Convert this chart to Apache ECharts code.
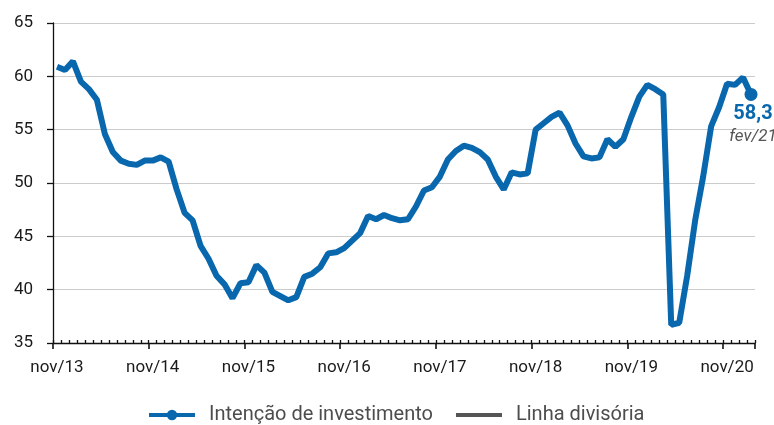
<!DOCTYPE html>
<html>
<head>
<meta charset="utf-8">
<script src="https://cdn.jsdelivr.net/npm/echarts@6/dist/echarts.min.js"></script>
<style>
html,body{margin:0;padding:0;background:#fff;}
#chart{width:774px;height:425px;}
</style>
</head>
<body>
<div id="chart"></div>
<script>
// Month abbreviations (Portuguese) used to build category labels nov/13 .. fev/21
var monthNames = ['jan','fev','mar','abr','mai','jun','jul','ago','set','out','nov','dez'];
var startMonth = 10; // nov
var startYear = 13;
var investimento = [
  60.9, 60.6, 61.4, 59.5, 58.8, 57.8, 54.6, 52.9, 52.1, 51.8, 51.7, 52.1,
  52.1, 52.4, 52.0, 49.4, 47.2, 46.5, 44.1, 42.9, 41.3, 40.5, 39.2, 40.6,
  40.7, 42.3, 41.6, 39.8, 39.4, 39.0, 39.3, 41.2, 41.5, 42.1, 43.4, 43.5,
  43.9, 44.6, 45.3, 46.9, 46.6, 47.0, 46.7, 46.5, 46.6, 47.8, 49.3, 49.6,
  50.6, 52.2, 53.0, 53.5, 53.3, 52.9, 52.2, 50.6, 49.4, 51.0, 50.8, 50.9,
  55.0, 55.6, 56.2, 56.6, 55.4, 53.7, 52.5, 52.3, 52.4, 54.1, 53.4, 54.1,
  56.2, 58.1, 59.2, 58.8, 58.3, 36.7, 36.9, 41.3, 46.5, 50.6, 55.3, 57.1,
  59.3, 59.2, 59.9, 58.3
];
var linhaDivisoria = investimento.map(function () { return null; });
var yTicks = [35, 40, 45, 50, 55, 60, 65];
var seriesNames = ['Intenção de investimento', 'Linha divisória'];
var lastLabel = '58,3';
var lastDate = 'fev/21';

var categories = [];
for (var i = 0; i < investimento.length; i++) {
  var m = (startMonth + i) % 12;
  var y = startYear + Math.floor((startMonth + i) / 12);
  categories.push(monthNames[m] + '/' + y);
}

var blue = '#0867ad';
var font = 'Roboto, "Noto Sans", sans-serif';
var chart = echarts.init(document.getElementById('chart'), null, {renderer: 'canvas'});
var lastIdx = investimento.length - 1;

var option = {
  animation: false,
  textStyle: {fontFamily: font},
  grid: {left: 53, right: 19, top: 23, bottom: 82, containLabel: false},
  legend: {
    data: [
      {name: seriesNames[0]},
      {name: seriesNames[1], itemStyle: {opacity: 0}}
    ],
    left: 147,
    top: 405,
    padding: 0,
    itemWidth: 46,
    itemHeight: 13,
    itemGap: 21,
    lineStyle: {width: 4},
    textStyle: {fontSize: 20, color: '#4d4d4d', fontFamily: font, padding: [0, 0, 0, 9]}
  },
  xAxis: [
    {
      type: 'category',
      data: categories,
      boundaryGap: true,
      axisLine: {lineStyle: {color: '#111', width: 1.3}},
      axisTick: {show: true, interval: 0, inside: true, length: 3, lineStyle: {color: '#111', width: 1.3}},
      axisLabel: {
        interval: function (idx) { return idx % 12 === 0; },
        margin: 16,
        fontSize: 17,
        color: '#1a1a1a',
        fontFamily: font
      },
      splitLine: {show: false}
    },
    {
      type: 'category',
      data: categories,
      boundaryGap: true,
      position: 'bottom',
      axisLine: {show: false},
      axisTick: {show: true, interval: function (idx) { return idx % 12 === 0; }, length: 6, lineStyle: {color: '#111', width: 1.6}},
      axisLabel: {show: false},
      splitLine: {show: false}
    }
  ],
  yAxis: {
    type: 'value',
    min: yTicks[0],
    max: yTicks[yTicks.length - 1],
    interval: 5,
    axisLine: {show: true, lineStyle: {color: '#111', width: 1.3}},
    axisTick: {show: true, length: 6, lineStyle: {color: '#111', width: 1.3}},
    axisLabel: {margin: 20, fontSize: 17, color: '#1a1a1a', fontFamily: font},
    splitLine: {show: true, lineStyle: {color: '#cccccc', width: 1.2}}
  },
  series: [
    {
      name: seriesNames[0],
      type: 'line',
      data: investimento,
      xAxisIndex: 0,
      symbol: 'circle',
      showSymbol: false,
      lineStyle: {color: blue, width: 6},
      itemStyle: {color: blue},
      markPoint: {
        symbol: 'circle',
        symbolSize: 13,
        itemStyle: {color: blue},
        data: [{coord: [lastIdx, investimento[lastIdx]], value: investimento[lastIdx]}],
        label: {
          show: true,
          position: 'bottom',
          distance: 1,
          offset: [2, 0],
          formatter: '{a|' + lastLabel + '}\n{b|' + lastDate + '}',
          rich: {
            a: {fontSize: 20, fontWeight: 'bold', color: blue, lineHeight: 24, fontFamily: font},
            b: {fontSize: 17, fontStyle: 'italic', color: '#555', lineHeight: 22, fontFamily: font}
          }
        }
      }
    },
    {
      name: seriesNames[1],
      type: 'line',
      data: linhaDivisoria,
      symbol: 'none',
      lineStyle: {color: '#555555', width: 4},
      itemStyle: {color: '#555555'}
    }
  ]
};
chart.setOption(option);
</script>
</body>
</html>
